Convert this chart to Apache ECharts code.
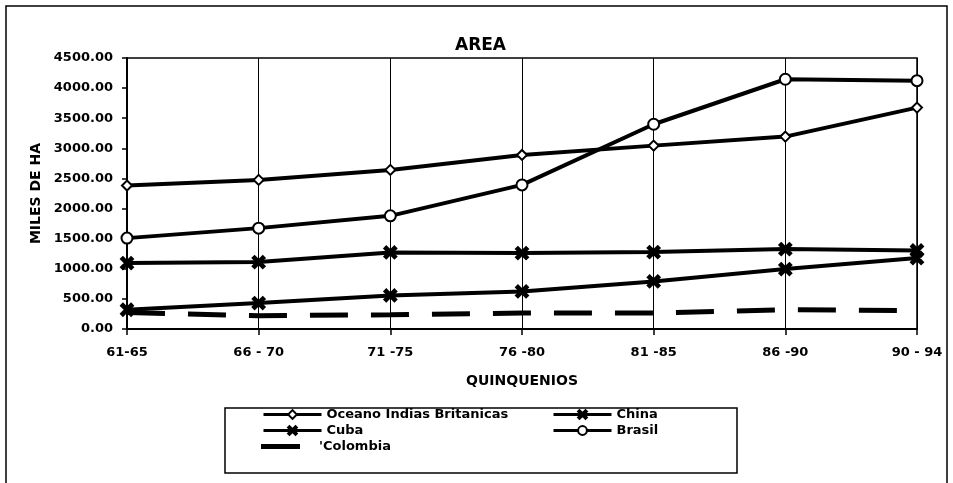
<!DOCTYPE html>
<html><head><meta charset="utf-8">
<script src="https://cdn.jsdelivr.net/npm/echarts@6/dist/echarts.min.js"></script>
<style>html,body{margin:0;padding:0;background:#fff}#c{width:953px;height:483px}</style>
</head><body><div id="c"></div>
<script>
const categories = ['61-65', '66 - 70', '71 -75', '76 -80', '81 -85', '86 -90', '90 - 94'];
const seriesNames = ['Oceano Indias Britanicas', 'China', 'Cuba', 'Brasil', "'Colombia"];
const oceano = [2382, 2476, 2642, 2890, 3045, 3195, 3676];
const china = [320, 431, 557, 624, 790, 995, 1178];
const cuba = [1095, 1111, 1271, 1260, 1277, 1327, 1304];
const brasil = [1509, 1675, 1879, 2393, 3400, 4147, 4124];
const colombia = [275, 220, 237, 265, 265, 320, 304];
const yMin = 0, yMax = 4500, yStep = 500;

const FONT = '"DejaVu Sans", sans-serif';
const X_PATH = 'path://M0,1.6 L1.6,0 L5,3.4 L8.4,0 L10,1.6 L6.6,5 L10,8.4 L8.4,10 L5,6.6 L1.6,10 L0,8.4 L3.4,5 Z';

function lineSeries(name, data, symbol, size, fill) {
  return {
    name, type: 'line', data, symbol, symbolSize: size, showSymbol: true,
    lineStyle: { color: '#000', width: 4 },
    itemStyle: { color: fill, borderColor: '#000', borderWidth: 2 },
    emphasis: { disabled: true }, animation: false
  };
}

const chart = echarts.init(document.getElementById('c'), null, { renderer: 'canvas' });
const txt = { fontFamily: FONT, fontWeight: 'bold', fontSize: 13, color: '#000' };
const legendBase = {
  textStyle: txt, itemWidth: 58, itemHeight: 11, selectedMode: false, padding: 0,
  lineStyle: { width: 3 }
};
chart.setOption({
  backgroundColor: '#fff',
  animation: false,
  title: {
    text: 'AREA', left: 450, top: 32,
    textStyle: { fontFamily: FONT, fontWeight: 'bold', fontSize: 17, color: '#000' }
  },
  grid: {
    left: 127, right: 36, top: 58, bottom: 154,
    show: true, borderColor: '#000', borderWidth: 1.5, containLabel: false
  },
  xAxis: {
    type: 'category', data: categories, boundaryGap: false,
    name: 'QUINQUENIOS', nameLocation: 'middle', nameGap: 45,
    nameTextStyle: { fontFamily: FONT, fontWeight: 'bold', fontSize: 14, color: '#000' },
    axisLine: { lineStyle: { color: '#000', width: 2 } },
    axisTick: { show: true, length: 6, lineStyle: { color: '#000', width: 1.5 } },
    axisLabel: Object.assign({ margin: 17 }, txt),
    splitLine: { show: true, lineStyle: { color: '#000', width: 1 } }
  },
  yAxis: {
    type: 'value', min: yMin, max: yMax, interval: yStep,
    name: 'MILES DE HA', nameLocation: 'middle', nameGap: 82, nameRotate: 90,
    nameTextStyle: { fontFamily: FONT, fontWeight: 'bold', fontSize: 14, color: '#000' },
    axisLine: { show: true, lineStyle: { color: '#000', width: 2 } },
    axisTick: { show: true, length: 5, lineStyle: { color: '#000', width: 1.5 } },
    axisLabel: Object.assign({ margin: 14, formatter: v => v.toFixed(2) }, txt),
    splitLine: { show: false }
  },
  legend: [
    Object.assign({}, legendBase, { data: [seriesNames[0]], left: 262, top: 408 }),
    Object.assign({}, legendBase, { data: [seriesNames[1]], left: 552, top: 408 }),
    Object.assign({}, legendBase, { data: [seriesNames[2]], left: 262, top: 424 }),
    Object.assign({}, legendBase, { data: [seriesNames[3]], left: 552, top: 424 }),
    Object.assign({}, legendBase, { data: [{ name: seriesNames[4], icon: 'rect' }], left: 261, top: 440,
      itemWidth: 39, itemHeight: 5,
      textStyle: Object.assign({ padding: [0, 0, 0, 14] }, txt) })
  ],
  graphic: [
    { type: 'rect', shape: { x: 6, y: 6, width: 941, height: 480 }, style: { fill: null, stroke: '#000', lineWidth: 1.5 }, silent: true },
    { type: 'rect', shape: { x: 225, y: 408, width: 512, height: 65 }, style: { fill: null, stroke: '#000', lineWidth: 1.5 }, silent: true }
  ],
  series: [
    lineSeries(seriesNames[0], oceano, 'diamond', 10, '#fff'),
    lineSeries(seriesNames[1], china, X_PATH, 12, '#000'),
    lineSeries(seriesNames[2], cuba, X_PATH, 12, '#000'),
    lineSeries(seriesNames[3], brasil, 'circle', 11, '#fff'),
    {
      name: seriesNames[4], type: 'line', data: colombia, symbol: 'none', showSymbol: false,
      lineStyle: { color: '#000', width: 5, type: [38, 23], cap: 'butt' },
      itemStyle: { color: '#000' },
      emphasis: { disabled: true }, animation: false
    }
  ]
});
</script></body></html>
